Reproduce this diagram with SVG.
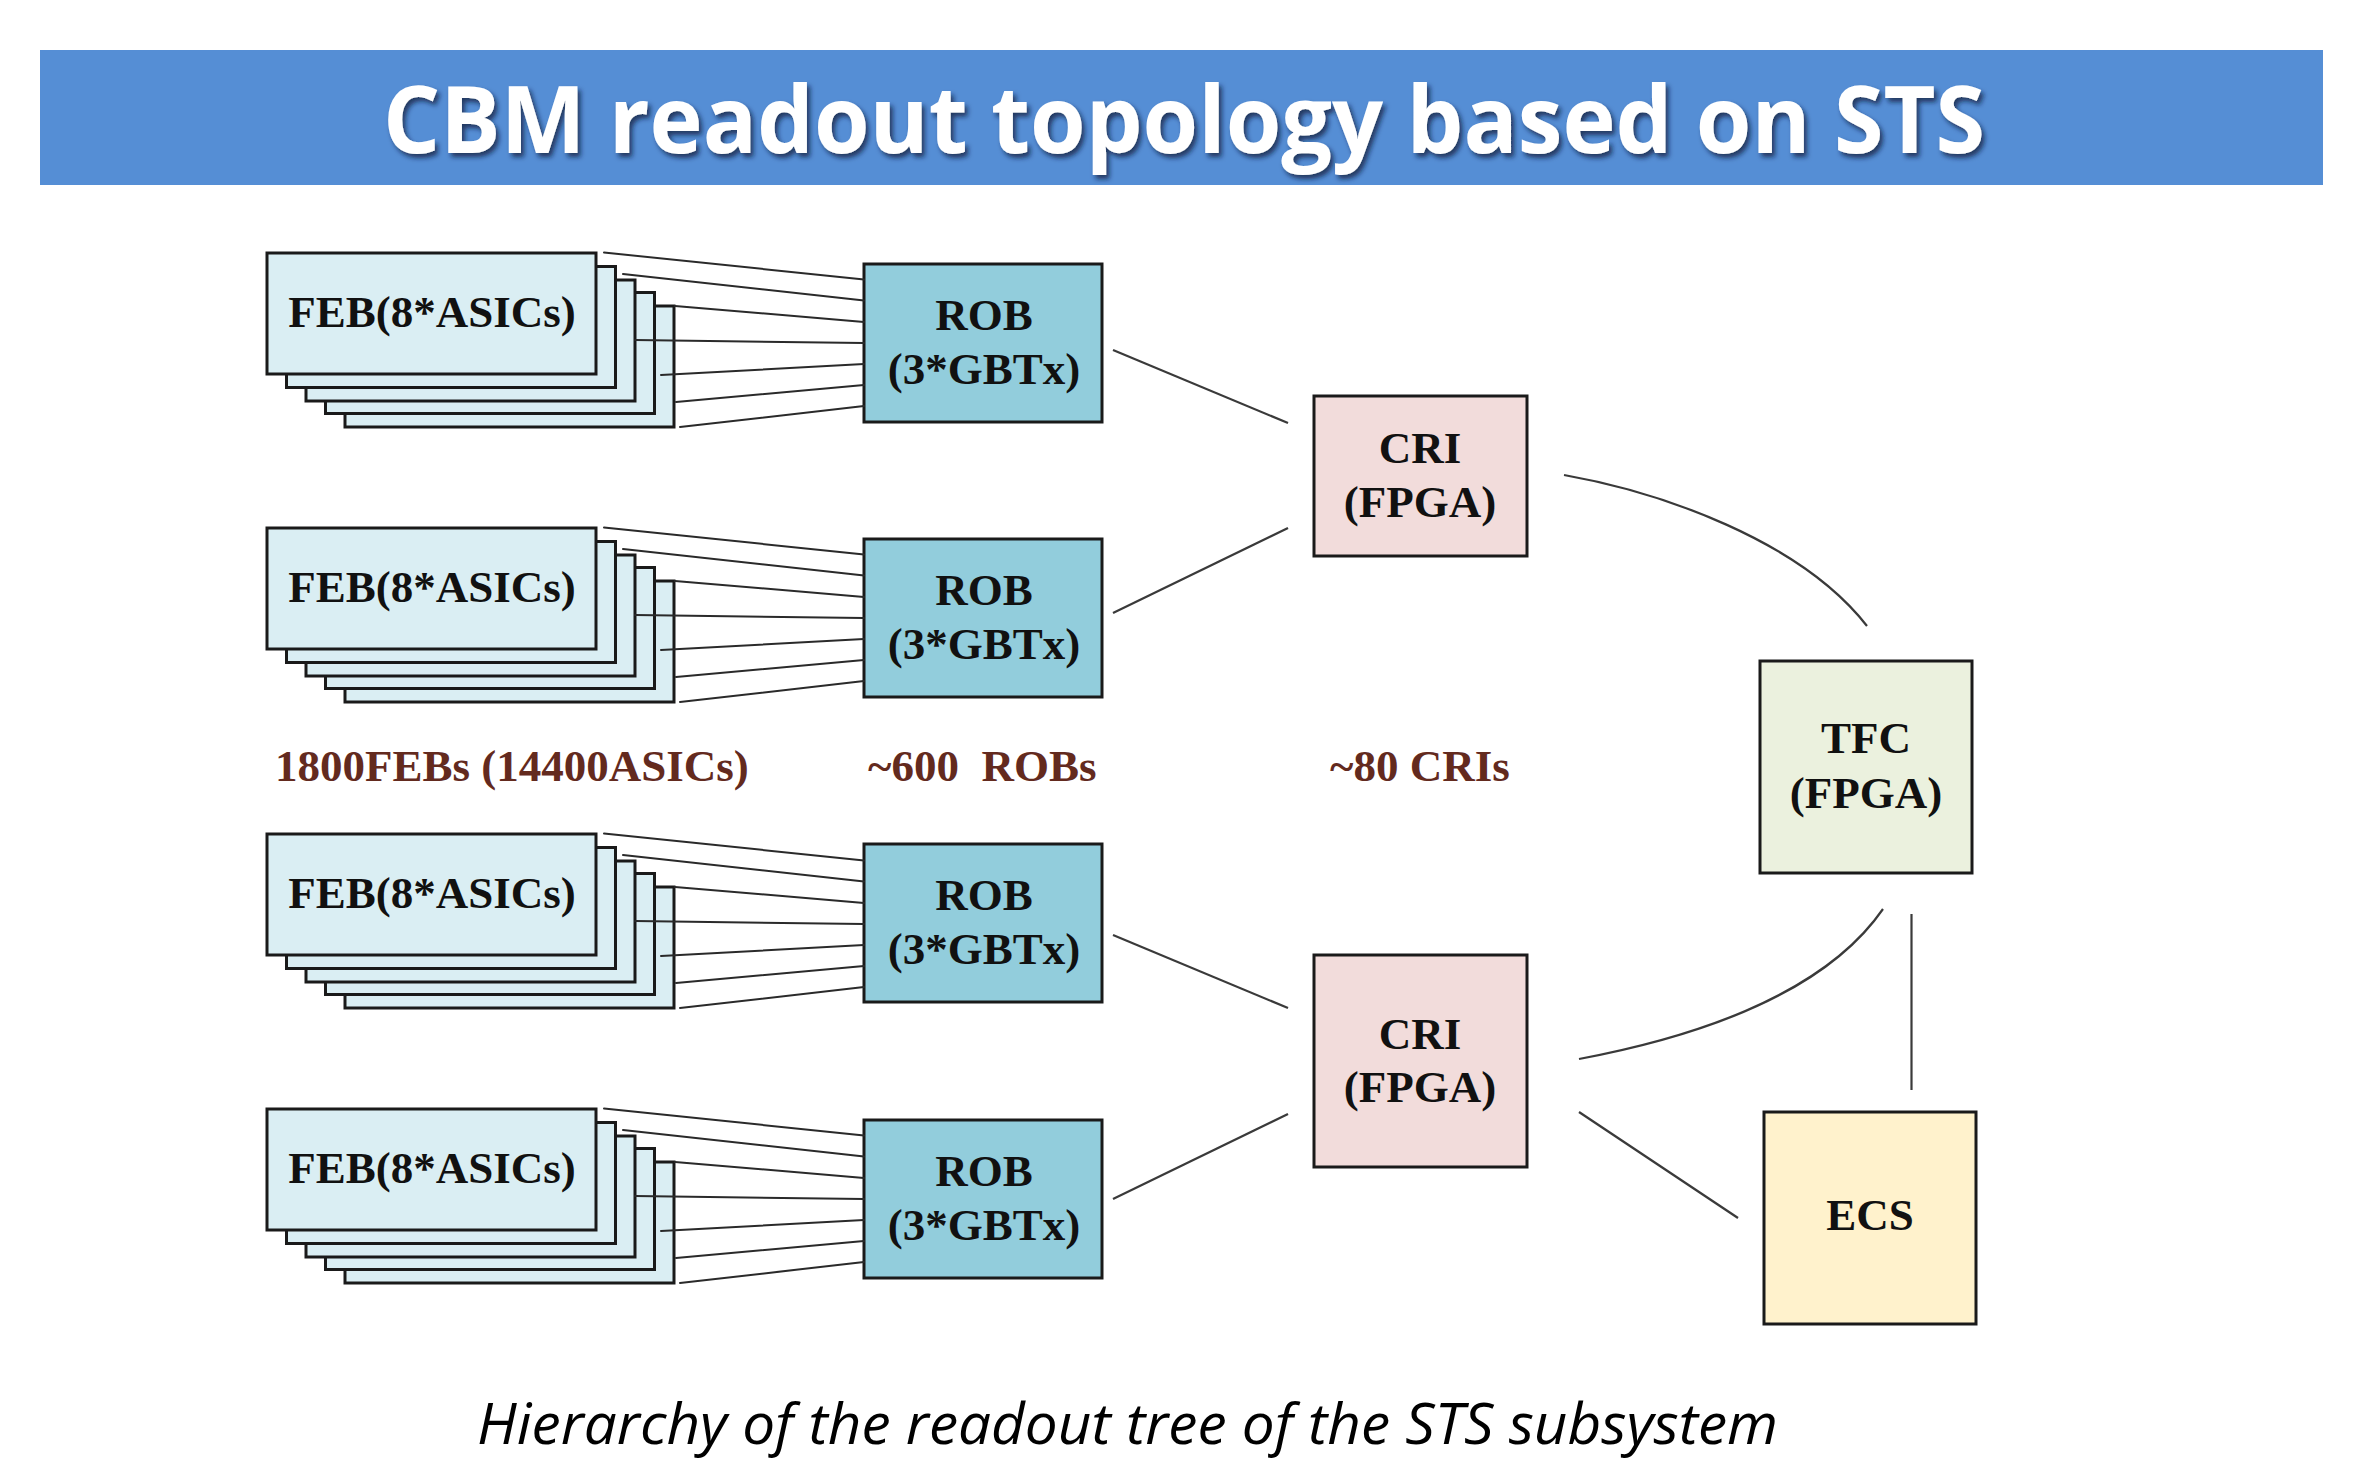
<svg xmlns="http://www.w3.org/2000/svg" xmlns:xlink="http://www.w3.org/1999/xlink" width="2354" height="1483" viewBox="0 0 2354 1483">
  <style>
    .box { stroke: #1a1a1a; stroke-width: 3; }
    .feb { fill: #DAEEF3; }
    .rob { fill: #92CDDC; }
    .cri { fill: #F2DCDB; }
    .tfc { fill: #EBF1DE; }
    .ecs { fill: #FFF2CC; }
    .lbl { font-family: "Liberation Serif", "Times New Roman", serif; font-weight: bold; font-size: 45px; fill: #111111; text-anchor: middle; }
    .cnt { font-family: "Liberation Serif", "Times New Roman", serif; font-weight: bold; font-size: 45px; fill: #632A1E; }
    .wire { stroke: #2a2a2a; stroke-width: 2; fill: none; stroke-linecap: round; }
    .link { stroke: #3a3a3a; stroke-width: 2.2; fill: none; }
  </style>
  <defs>
    <filter id="shadow" x="-5%" y="-20%" width="110%" height="150%">
      <feDropShadow dx="3" dy="4" stdDeviation="2.5" flood-color="#0b1e3a" flood-opacity="0.75"/>
    </filter>
  </defs>

  <rect width="2354" height="1483" fill="#ffffff"/>

  <!-- Title -->
  <g id="title">
    <rect x="40" y="50" width="2283" height="135" fill="#558ED5"/>
    <text x="383" y="153" font-family="'Open Sans', 'Noto Sans', sans-serif" font-weight="bold" font-size="94" fill="#ffffff" textLength="1602" lengthAdjust="spacingAndGlyphs" filter="url(#shadow)">CBM readout topology based on STS</text>
  </g>

  <!-- FEB stacks -->
  <g id="feb1">
    <rect class="box feb" x="345" y="306" width="329" height="121"/>
    <rect class="box feb" x="325.5" y="292.5" width="329" height="121"/>
    <rect class="box feb" x="306" y="280" width="329" height="121"/>
    <rect class="box feb" x="286.5" y="266.5" width="329" height="121"/>
    <rect class="box feb" x="267" y="253" width="329" height="121"/>
    <text class="lbl" x="432" y="327">FEB(8*ASICs)</text>
  </g>
  <g id="feb2" transform="translate(0,275)">
    <rect class="box feb" x="345" y="306" width="329" height="121"/>
    <rect class="box feb" x="325.5" y="292.5" width="329" height="121"/>
    <rect class="box feb" x="306" y="280" width="329" height="121"/>
    <rect class="box feb" x="286.5" y="266.5" width="329" height="121"/>
    <rect class="box feb" x="267" y="253" width="329" height="121"/>
    <text class="lbl" x="432" y="327">FEB(8*ASICs)</text>
  </g>
  <g id="feb3" transform="translate(0,581)">
    <rect class="box feb" x="345" y="306" width="329" height="121"/>
    <rect class="box feb" x="325.5" y="292.5" width="329" height="121"/>
    <rect class="box feb" x="306" y="280" width="329" height="121"/>
    <rect class="box feb" x="286.5" y="266.5" width="329" height="121"/>
    <rect class="box feb" x="267" y="253" width="329" height="121"/>
    <text class="lbl" x="432" y="327">FEB(8*ASICs)</text>
  </g>
  <g id="feb4" transform="translate(0,856)">
    <rect class="box feb" x="345" y="306" width="329" height="121"/>
    <rect class="box feb" x="325.5" y="292.5" width="329" height="121"/>
    <rect class="box feb" x="306" y="280" width="329" height="121"/>
    <rect class="box feb" x="286.5" y="266.5" width="329" height="121"/>
    <rect class="box feb" x="267" y="253" width="329" height="121"/>
    <text class="lbl" x="432" y="327">FEB(8*ASICs)</text>
  </g>

  <!-- ROBs -->
  <g id="rob1">
    <rect class="box rob" x="864" y="264" width="238" height="158"/>
    <text class="lbl" x="984" y="330">ROB</text>
    <text class="lbl" x="984" y="384">(3*GBTx)</text>
  </g>
  <g id="rob2" transform="translate(0,275)">
    <rect class="box rob" x="864" y="264" width="238" height="158"/>
    <text class="lbl" x="984" y="330">ROB</text>
    <text class="lbl" x="984" y="384">(3*GBTx)</text>
  </g>
  <g id="rob3" transform="translate(0,580)">
    <rect class="box rob" x="864" y="264" width="238" height="158"/>
    <text class="lbl" x="984" y="330">ROB</text>
    <text class="lbl" x="984" y="384">(3*GBTx)</text>
  </g>
  <g id="rob4" transform="translate(0,856)">
    <rect class="box rob" x="864" y="264" width="238" height="158"/>
    <text class="lbl" x="984" y="330">ROB</text>
    <text class="lbl" x="984" y="384">(3*GBTx)</text>
  </g>

  <!-- CRIs -->
  <g id="cri1">
    <rect class="box cri" x="1314" y="396" width="213" height="160"/>
    <text class="lbl" x="1420" y="463">CRI</text>
    <text class="lbl" x="1420" y="517">(FPGA)</text>
  </g>
  <g id="cri2">
    <rect class="box cri" x="1314" y="955" width="213" height="212"/>
    <text class="lbl" x="1420" y="1049">CRI</text>
    <text class="lbl" x="1420" y="1102">(FPGA)</text>
  </g>

  <!-- TFC -->
  <g id="tfc">
    <rect class="box tfc" x="1760" y="661" width="212" height="212"/>
    <text class="lbl" x="1866" y="753">TFC</text>
    <text class="lbl" x="1866" y="808">(FPGA)</text>
  </g>

  <!-- ECS -->
  <g id="ecs">
    <rect class="box ecs" x="1764" y="1112" width="212" height="212"/>
    <text class="lbl" x="1870" y="1230">ECS</text>
  </g>

  <!-- Count labels -->
  <g id="counts">
    <text class="cnt" x="275" y="781">1800FEBs (14400ASICs)</text>
    <text class="cnt" x="868" y="781" xml:space="preserve">~600  ROBs</text>
    <text class="cnt" x="1330" y="781">~80 CRIs</text>
  </g>

  <!-- Connectors -->
  <g id="connectors">
    <g id="fan1" class="wire">
      <line x1="604" y1="252.5" x2="864" y2="279.5"/>
      <line x1="623" y1="274" x2="864" y2="300.5"/>
      <line x1="675" y1="306" x2="864" y2="322"/>
      <line x1="635" y1="340" x2="864" y2="343"/>
      <line x1="661" y1="375" x2="864" y2="364"/>
      <line x1="676" y1="402" x2="864" y2="385"/>
      <line x1="680" y1="427" x2="864" y2="406"/>
    </g>
    <g id="fan2" class="wire" transform="translate(0,275)">
      <line x1="604" y1="252.5" x2="864" y2="279.5"/>
      <line x1="623" y1="274" x2="864" y2="300.5"/>
      <line x1="675" y1="306" x2="864" y2="322"/>
      <line x1="635" y1="340" x2="864" y2="343"/>
      <line x1="661" y1="375" x2="864" y2="364"/>
      <line x1="676" y1="402" x2="864" y2="385"/>
      <line x1="680" y1="427" x2="864" y2="406"/>
    </g>
    <g id="fan3" class="wire" transform="translate(0,581)">
      <line x1="604" y1="252.5" x2="864" y2="279.5"/>
      <line x1="623" y1="274" x2="864" y2="300.5"/>
      <line x1="675" y1="306" x2="864" y2="322"/>
      <line x1="635" y1="340" x2="864" y2="343"/>
      <line x1="661" y1="375" x2="864" y2="364"/>
      <line x1="676" y1="402" x2="864" y2="385"/>
      <line x1="680" y1="427" x2="864" y2="406"/>
    </g>
    <g id="fan4" class="wire" transform="translate(0,856)">
      <line x1="604" y1="252.5" x2="864" y2="279.5"/>
      <line x1="623" y1="274" x2="864" y2="300.5"/>
      <line x1="675" y1="306" x2="864" y2="322"/>
      <line x1="635" y1="340" x2="864" y2="343"/>
      <line x1="661" y1="375" x2="864" y2="364"/>
      <line x1="676" y1="402" x2="864" y2="385"/>
      <line x1="680" y1="427" x2="864" y2="406"/>
    </g>
    <g class="link">
      <line x1="1113" y1="350" x2="1288" y2="423"/>
      <line x1="1113" y1="613" x2="1288" y2="528"/>
      <line x1="1113" y1="935" x2="1288" y2="1008"/>
      <line x1="1113" y1="1199" x2="1288" y2="1114"/>
      <path d="M1564,475 C1660,492 1800,540 1867,626"/>
      <path d="M1579,1059 C1680,1040 1820,1000 1883,909"/>
      <line x1="1911.5" y1="914" x2="1911.5" y2="1090"/>
      <line x1="1579" y1="1112" x2="1738" y2="1218"/>
    </g>
  </g>

  <!-- Caption -->
  <text x="477" y="1444" font-family="'Open Sans', 'Noto Sans', sans-serif" font-style="italic" font-size="56" fill="#000000" textLength="1301" lengthAdjust="spacingAndGlyphs">Hierarchy of the readout tree of the STS subsystem</text>
</svg>
